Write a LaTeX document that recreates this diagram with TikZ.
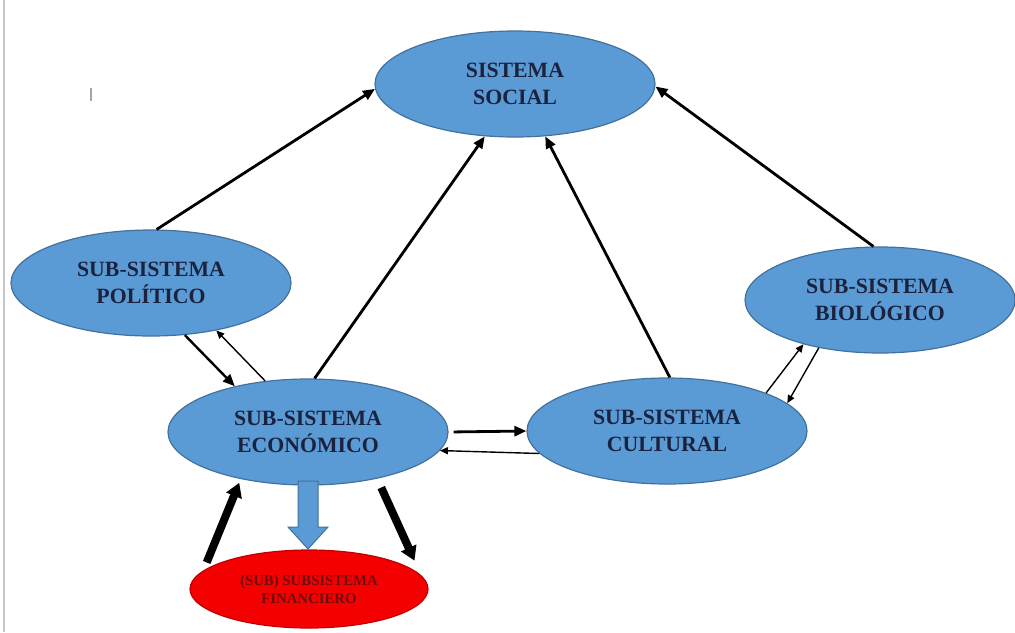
\documentclass[tikz,border=0pt]{standalone}
\usepackage{fontspec}
\setmainfont{Liberation Serif}
\usetikzlibrary{shapes.geometric,arrows.meta}
\definecolor{sysblue}{HTML}{5B9BD5}
\definecolor{sysedge}{HTML}{41719C}
\definecolor{sysred}{HTML}{F40000}
\definecolor{rededge}{HTML}{C00000}
\definecolor{navytext}{RGB}{26,34,62}
\definecolor{maroontext}{RGB}{110,12,12}
\tikzset{
	sysnode/.style = {ellipse, align=center, inner sep=0pt, fill=sysblue, draw=sysedge, line width=0.6pt,
		minimum width=140pt, minimum height=53pt, text=navytext, font=\fontsize{10.9}{13.5}\selectfont\bfseries},
	finnode/.style = {ellipse, align=center, inner sep=0pt, fill=sysred, draw=rededge, line width=0.6pt,
		minimum width=119pt, minimum height=39pt, text=maroontext, font=\fontsize{7.4}{9}\selectfont\bfseries},
	link/.style = {line width=1.4pt, -{Triangle[length=6pt,width=5pt]}},
	thinlink/.style = {line width=0.7pt, -{Triangle[length=4pt,width=3.5pt]}},
	fatlink/.style = {line width=4pt, -{Triangle[length=7pt,width=8pt]}}
}
\begin{document}
\begin{tikzpicture}[x=0.5pt,y=-0.5pt]
\useasboundingbox (0,0) rectangle (1015,632);
% page edge and cursor
\draw[gray!45, line width=0.8pt] (4,0) -- (4,632);
\draw[gray!70, line width=0.6pt] (91,88) -- (91,101);

% systems
\node [sysnode] (soc) at (515,84) {SISTEMA\\SOCIAL};
\node [sysnode] (pol) at (151,283) {SUB-SISTEMA\\POLÍTICO};
\node [sysnode] (eco) at (308,432) {SUB-SISTEMA\\ECONÓMICO};
\node [sysnode] (cul) at (667,431) {SUB-SISTEMA\\CULTURAL};
\node [sysnode, minimum width=135pt] (bio) at (880,300) {SUB-SISTEMA\\BIOLÓGICO};
\node [finnode] (fin) at (309,589) {(SUB) SUBSISTEMA\\FINANCIERO};

% towards the social system
\draw [link] (pol.84) -- (soc.182);
\draw [link] (eco.83) -- (soc.240);
\draw [link] (cul.87) -- (soc.300);
\draw [link] (bio.97) -- (soc.359);

% between sub-systems
\draw [link, line width=1.2pt] (pol.303) -- (eco.148);
\draw [thinlink] (eco.130) -- (pol.324);
\draw [link, shorten <=2.5pt] (eco.0) -- (cul.180);
\draw [thinlink] (cul.190) -- (eco.352);
\draw [thinlink] (cul.21) -- (bio.210);
\draw [thinlink] (bio.218) -- (cul.13);
\draw [fatlink, shorten <=4.3pt, shorten >=2pt] (fin.170) -- (eco.215);
\draw [fatlink, shorten <=4.9pt, shorten >=8pt] (eco.326) -- (fin.7);

% block arrow
\draw [fill=sysblue, draw=sysedge, line width=0.5pt]
	(298,481) -- (318,481) -- (318,527) -- (328,527) -- (308,549) -- (288,527) -- (298,527) -- cycle;
\end{tikzpicture}
\end{document}
